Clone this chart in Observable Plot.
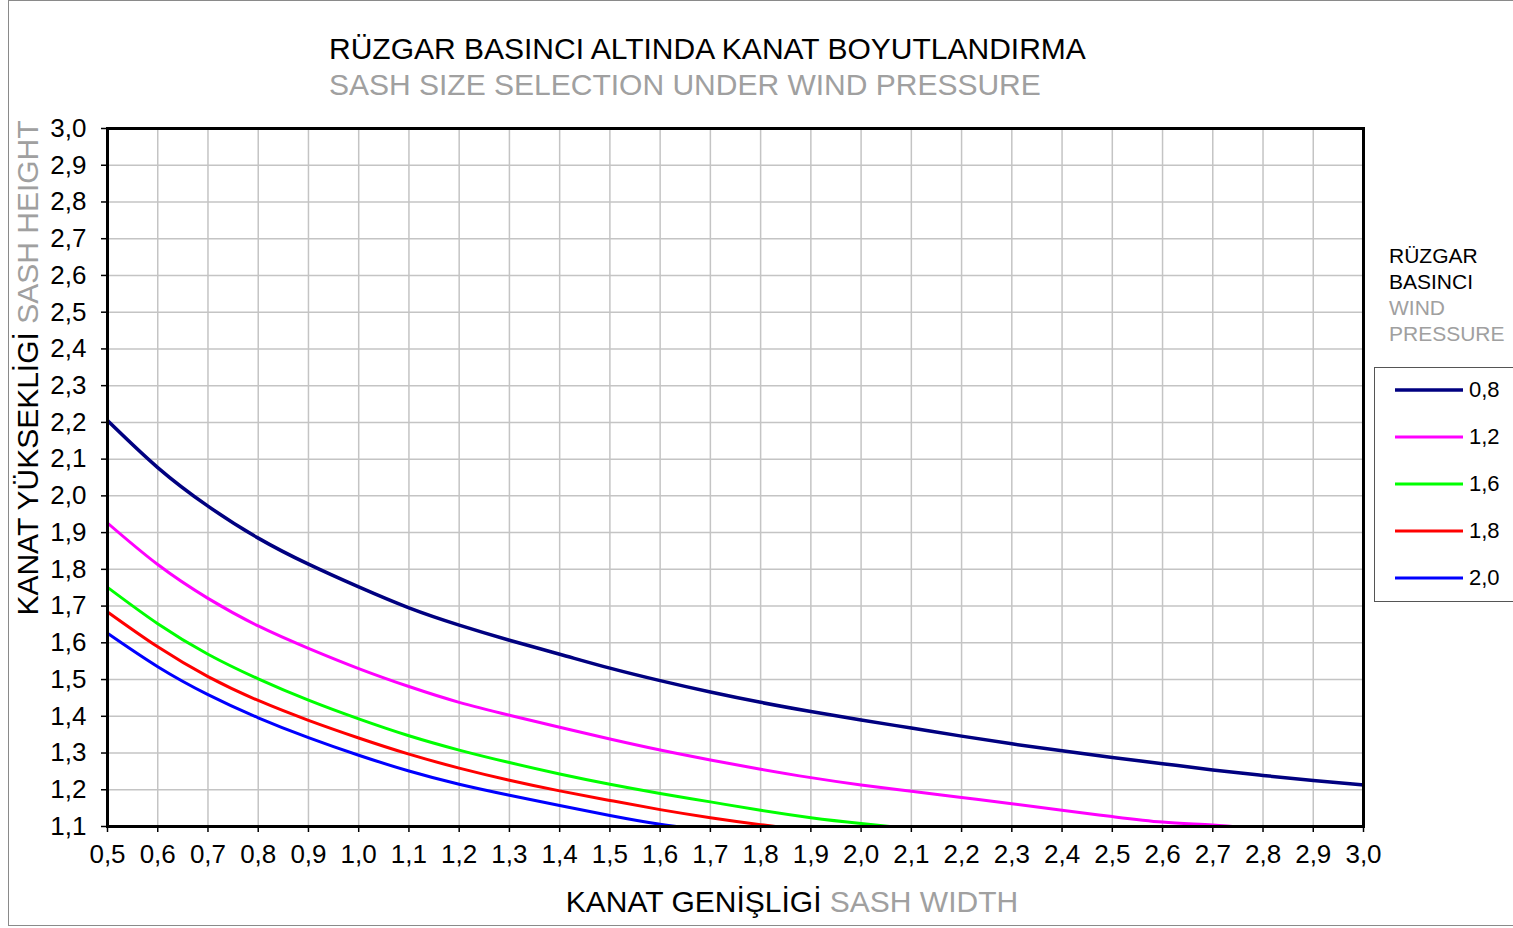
<!DOCTYPE html>
<html>
<head>
<meta charset="utf-8">
<script src="https://cdn.jsdelivr.net/npm/d3@7"></script>
<script src="https://cdn.jsdelivr.net/npm/@observablehq/plot@0.6"></script>
<style>
  html, body { margin: 0; padding: 0; background: #fff; }
  body { width: 1513px; height: 928px; position: relative; overflow: hidden; font-family: "Liberation Sans", Arial, sans-serif; }
  .abs { position: absolute; white-space: nowrap; }
  .gray { color: #a0a0a0; }
</style>
</head>
<body>
<div class="abs" style="left:8px;top:0px;width:1510px;height:924px;border:1px solid #8a8a8a;"></div>
<div id="chart" class="abs" style="left:0;top:0;"></div>
<div class="abs" style="left:329px;top:32px;font-size:30px;color:#000;">RÜZGAR BASINCI ALTINDA KANAT BOYUTLANDIRMA</div>
<div class="abs gray" style="left:329px;top:68px;font-size:30px;">SASH SIZE SELECTION UNDER WIND PRESSURE</div>
<div class="abs" style="left:28px;top:368px;width:0;height:0;">
  <div class="abs" style="left:0;top:0;transform:translate(-50%,-50%) rotate(-90deg);font-size:30px;">KANAT YÜKSEKLİGİ <span class="gray">SASH HEIGHT</span></div>
</div>
<div class="abs" style="left:792px;top:885px;transform:translateX(-50%);font-size:30px;">KANAT GENİŞLİGİ <span class="gray">SASH WIDTH</span></div>
<div class="abs" style="left:1389px;top:243px;font-size:21px;line-height:26px;">RÜZGAR<br>BASINCI<br><span class="gray">WIND<br>PRESSURE</span></div>
<div id="legend" class="abs" style="left:1374px;top:367px;width:150px;height:235px;border:1px solid #555;box-sizing:border-box;"></div>
<script>
// ---- data ----
const xValues = [0.5,0.6,0.7,0.8,0.9,1.0,1.1,1.2,1.3,1.4,1.5,1.6,1.7,1.8,1.9,2.0,2.1,2.2,2.3,2.4,2.5,2.6,2.7,2.8,2.9,3.0];
const seriesNames = ["0,8", "1,2", "1,6", "1,8", "2,0"];
const seriesColors = ["#000080", "#ff00ff", "#00ff00", "#ff0000", "#0000ff"];
const p08 = [2.205,2.077,1.972,1.885,1.814,1.752,1.695,1.648,1.607,1.569,1.531,1.497,1.466,1.438,1.413,1.390,1.368,1.346,1.325,1.306,1.288,1.271,1.254,1.239,1.225,1.213];
const p12 = [1.926,1.813,1.721,1.646,1.585,1.530,1.481,1.438,1.403,1.370,1.338,1.308,1.281,1.256,1.233,1.213,1.196,1.179,1.162,1.144,1.127,1.112,1.104,1.093];
const p16 = [1.751,1.652,1.569,1.502,1.444,1.393,1.347,1.308,1.274,1.243,1.215,1.190,1.167,1.144,1.124,1.108,1.094];
const p18 = [1.684,1.589,1.508,1.443,1.389,1.341,1.297,1.259,1.226,1.197,1.171,1.146,1.124,1.105,1.088];
const p20 = [1.626,1.535,1.459,1.396,1.342,1.294,1.251,1.215,1.185,1.157,1.130,1.106,1.088];
const seriesValues = [p08, p12, p16, p18, p20];
const seriesWidths = [3.5, 3, 3, 3, 3];
const xTicks = [0.5,0.6,0.7,0.8,0.9,1.0,1.1,1.2,1.3,1.4,1.5,1.6,1.7,1.8,1.9,2.0,2.1,2.2,2.3,2.4,2.5,2.6,2.7,2.8,2.9,3.0];
const yTicks = [1.1,1.2,1.3,1.4,1.5,1.6,1.7,1.8,1.9,2.0,2.1,2.2,2.3,2.4,2.5,2.6,2.7,2.8,2.9,3.0];

const fmt = d => d.toFixed(1).replace(".", ",");

const lineMarks = seriesValues.map((vals, i) =>
  Plot.line(vals.map((y, j) => ({x: xValues[j], y, s: seriesNames[i]})), {
    x: "x", y: "y", stroke: seriesColors[i], strokeWidth: seriesWidths[i],
    curve: "natural", clip: true
  })
);

const chart = Plot.plot({
  width: 1513,
  height: 928,
  marginLeft: 107,
  marginRight: 150,
  marginTop: 128,
  marginBottom: 102,
  style: {fontFamily: "'Liberation Sans', Arial, sans-serif", fontSize: "26px", color: "#000", background: "transparent", overflow: "visible"},
  x: {domain: [0.5, 3.0]},
  y: {domain: [1.1, 3.0]},
  marks: [
    Plot.gridX(xTicks, {stroke: "#c4c4c4", strokeOpacity: 1, strokeWidth: 1.5}),
    Plot.gridY(yTicks, {stroke: "#c4c4c4", strokeOpacity: 1, strokeWidth: 1.5}),
    ...lineMarks,
    Plot.frame({stroke: "#000", strokeWidth: 3}),
    Plot.axisX(xTicks, {tickFormat: fmt, tickSize: 6, tickPadding: 12, fontSize: 26, label: null, strokeWidth: 1.5}),
    Plot.axisY(yTicks, {tickFormat: fmt, tickSize: 6, tickPadding: 15, fontSize: 26, label: null, strokeWidth: 1.5})
  ]
});
document.getElementById("chart").appendChild(chart);

// legend
const legend = document.getElementById("legend");
seriesNames.forEach((name, i) => {
  const row = document.createElement("div");
  row.className = "abs";
  row.style.left = "20px";
  row.style.top = (22 + i * 47 - 14) + "px";
  row.style.height = "28px";
  row.style.fontSize = "22px";
  row.style.lineHeight = "28px";
  row.innerHTML = `<svg width="68" height="28" style="vertical-align:top"><line x1="0" x2="68" y1="14" y2="14" stroke="${seriesColors[i]}" stroke-width="${seriesWidths[i]}"/></svg><span style="margin-left:6px">${name}</span>`;
  legend.appendChild(row);
});
</script>
</body>
</html>
